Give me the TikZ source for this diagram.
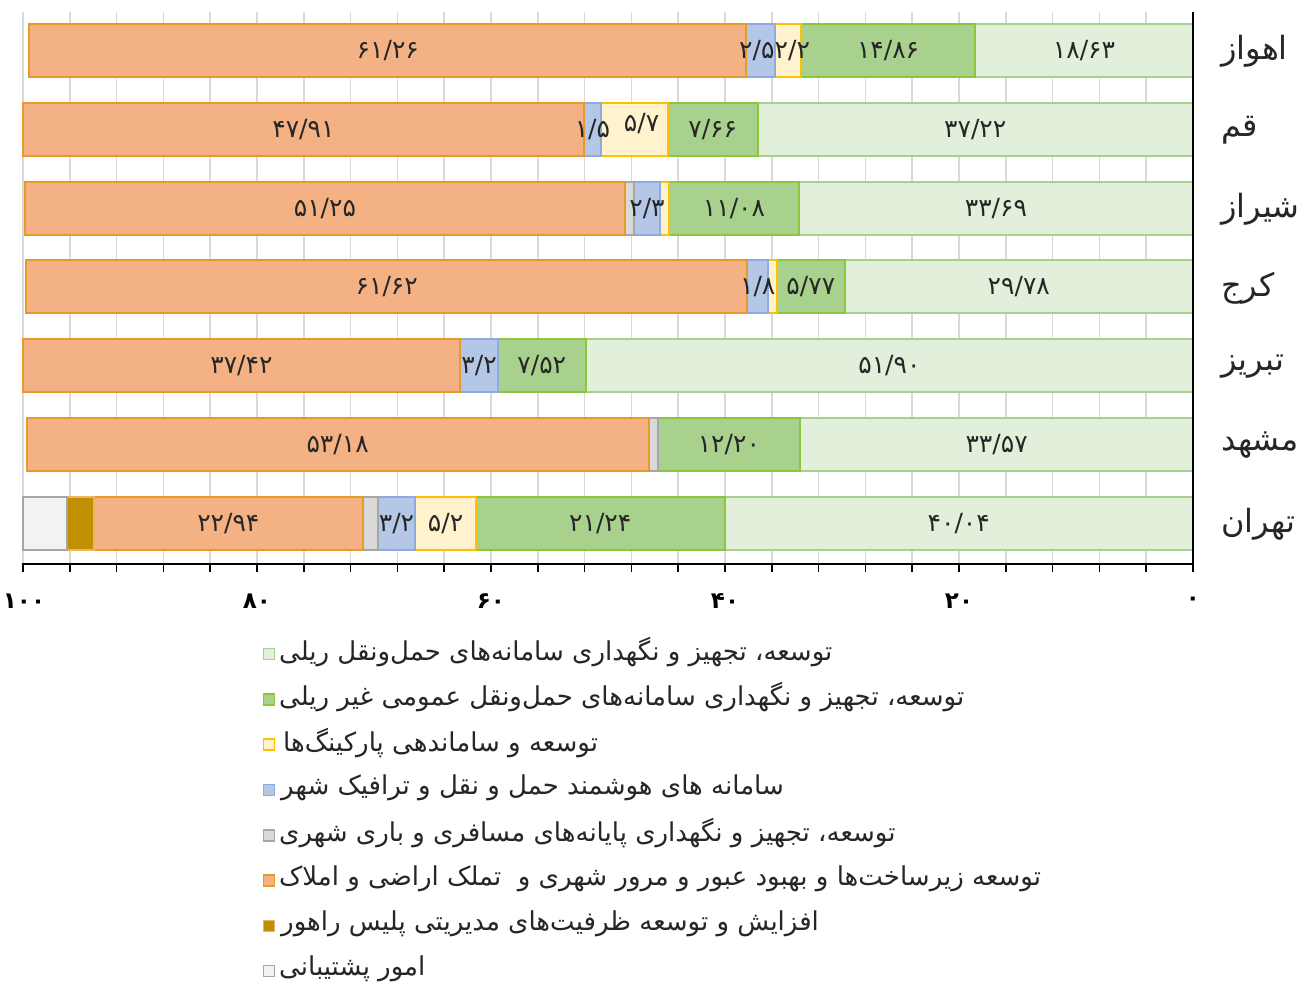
\documentclass[tikz,border=0pt]{standalone}
\usepackage{fontspec}
\setmainfont{DejaVu Sans}
\newfontfamily\fa[Script=Arabic]{DejaVu Sans}
\TeXXeTstate=1

\definecolor{lgfill}{HTML}{E2EFDA}\definecolor{lgdraw}{HTML}{A9D18E}
\definecolor{gfill}{HTML}{A9D18E}\definecolor{gdraw}{HTML}{8CC63F}
\definecolor{yfill}{HTML}{FFF2CC}\definecolor{ydraw}{HTML}{FFC000}
\definecolor{bfill}{HTML}{B4C7E7}\definecolor{bdraw}{HTML}{8FAADC}
\definecolor{grfill}{HTML}{D9D9D9}\definecolor{grdraw}{HTML}{A6A6A6}
\definecolor{ofill}{HTML}{F4B183}\definecolor{odraw}{HTML}{E69A28}
\definecolor{kfill}{HTML}{BF9000}\definecolor{kdraw}{HTML}{F2B266}
\definecolor{lkfill}{HTML}{F2F2F2}\definecolor{lkdraw}{HTML}{A6A6A6}
\definecolor{gridc}{HTML}{D9D9D9}
\definecolor{txt}{HTML}{262626}

% one stacked bar: \rowstart{y} then \barpart{name}{value}{style};
% each part leaves a coordinate named after it at its centre
\newcommand\rowstart[1]{\xdef\rowy{#1}\xdef\cum{0}}
\newcommand\barpart[3]{%
  \pgfmathsetmacro\xa{1193-11.7*\cum}%
  \pgfmathsetmacro\nc{\cum+#2}%
  \pgfmathsetmacro\xb{1193-11.7*\nc}%
  \xdef\cum{\nc}%
  \path[#3] (\xb,\rowy-26.5) rectangle (\xa,\rowy+26.5);
  \coordinate (#1) at ({(\xa+\xb)/2},\rowy);
}

\begin{document}
\begin{tikzpicture}[x=1pt,y=-1pt,
  seg/.style={line width=2pt},
  slg/.style={seg,fill=lgfill,draw=lgdraw},
  sg/.style={seg,fill=gfill,draw=gdraw},
  sy/.style={seg,fill=yfill,draw=ydraw},
  sb/.style={seg,fill=bfill,draw=bdraw},
  sgr/.style={seg,fill=grfill,draw=grdraw},
  so/.style={seg,fill=ofill,draw=odraw},
  sk/.style={seg,fill=kfill,draw=kdraw},
  slk/.style={seg,fill=lkfill,draw=lkdraw},
  vlabel/.style={inner sep=0pt,text=txt,font=\fontsize{25}{30}\selectfont},
  city/.style={anchor=west,inner sep=0pt,text=txt,font=\fontsize{32}{38}\fa},
  tick label/.style={inner sep=0pt,text=black,font=\fontsize{23}{27}\bfseries},
  lsq/.style={minimum size=11pt,inner sep=0pt,line width=1.6pt},
  ltext/.style={anchor=west,inner sep=0pt,text=txt,font=\fontsize{26}{30}\fa},
]
\useasboundingbox[fill=white] (0,0) rectangle (1316,983);

% vertical gridlines every 4 units
\foreach \k in {1,...,25}
  \draw[gridc,line width=1.5pt] ({1193-46.8*\k},12) -- ({1193-46.8*\k},564);

% bars
\rowstart{50.5}
\barpart{a1}{18.63}{slg}
\barpart{a2}{14.86}{sg}
\barpart{a3}{2.2}{sy}
\barpart{a4}{2.5}{sb}
\barpart{a5}{61.26}{so}

\rowstart{129.3}
\barpart{q1}{37.22}{slg}
\barpart{q2}{7.66}{sg}
\barpart{q3}{5.7}{sy}
\barpart{q4}{1.5}{sb}
\barpart{q5}{47.91}{so}

\rowstart{208.1}
\barpart{s1}{33.69}{slg}
\barpart{s2}{11.08}{sg}
\barpart{s3}{0.75}{sy}
\barpart{s4}{2.3}{sb}
\barpart{s5}{0.75}{sgr}
\barpart{s6}{51.25}{so}

\rowstart{286.9}
\barpart{k1}{29.78}{slg}
\barpart{k2}{5.77}{sg}
\barpart{k3}{0.75}{sy}
\barpart{k4}{1.8}{sb}
\barpart{k5}{61.62}{so}

\rowstart{365.7}
\barpart{t1}{51.90}{slg}
\barpart{t2}{7.52}{sg}
\barpart{t3}{3.2}{sb}
\barpart{t4}{37.42}{so}

\rowstart{444.5}
\barpart{m1}{33.57}{slg}
\barpart{m2}{12.20}{sg}
\barpart{m3}{0.75}{sgr}
\barpart{m4}{53.18}{so}

\rowstart{523.3}
\barpart{h1}{40.04}{slg}
\barpart{h2}{21.24}{sg}
\barpart{h3}{5.2}{sy}
\barpart{h4}{3.2}{sb}
\barpart{h5}{1.3}{sgr}
\barpart{h6}{22.94}{so}
\barpart{h7}{2.3}{sk}
\barpart{h8}{3.8}{slk}

% value labels, on top of all bars
\node[vlabel] (a1l) at (a1) {۱۸/۶۳};
\node[vlabel] (a2l) at (a2) {۱۴/۸۶};
\node[vlabel,xshift=4pt] (a3l) at (a3) {۲/۲};
\node[vlabel,xshift=-4pt] (a4l) at (a4) {۲/۵};
\node[vlabel] (a5l) at (a5) {۶۱/۲۶};

\node[vlabel] (q1l) at (q1) {۳۷/۲۲};
\node[vlabel] (q2l) at (q2) {۷/۶۶};
\node[vlabel,xshift=7pt,yshift=6pt] (q3l) at (q3) {۵/۷};
\node[vlabel] (q4l) at (q4) {۱/۵};
\node[vlabel] (q5l) at (q5) {۴۷/۹۱};

\node[vlabel] (s1l) at (s1) {۳۳/۶۹};
\node[vlabel] (s2l) at (s2) {۱۱/۰۸};
\node[vlabel] (s4l) at (s4) {۲/۳};
\node[vlabel] (s6l) at (s6) {۵۱/۲۵};

\node[vlabel] (k1l) at (k1) {۲۹/۷۸};
\node[vlabel] (k2l) at (k2) {۵/۷۷};
\node[vlabel] (k4l) at (k4) {۱/۸};
\node[vlabel] (k5l) at (k5) {۶۱/۶۲};

\node[vlabel] (t1l) at (t1) {۵۱/۹۰};
\node[vlabel] (t2l) at (t2) {۷/۵۲};
\node[vlabel] (t3l) at (t3) {۳/۲};
\node[vlabel] (t4l) at (t4) {۳۷/۴۲};

\node[vlabel] (m1l) at (m1) {۳۳/۵۷};
\node[vlabel] (m2l) at (m2) {۱۲/۲۰};
\node[vlabel] (m4l) at (m4) {۵۳/۱۸};

\node[vlabel] (h1l) at (h1) {۴۰/۰۴};
\node[vlabel] (h2l) at (h2) {۲۱/۲۴};
\node[vlabel] (h3l) at (h3) {۵/۲};
\node[vlabel] (h4l) at (h4) {۳/۲};
\node[vlabel] (h6l) at (h6) {۲۲/۹۴};

% axes
\coordinate (o) at (1193,564);
\coordinate (xend) at (22,564);
\coordinate (ytop) at (1193,12);
\draw[black,line width=2pt] (xend) -- (o) -- (ytop);
\foreach \k in {0,...,25}
  \draw[black,line width=1.6pt] ({1193-46.8*\k},564) -- ({1193-46.8*\k},572);
\node[tick label] (x0) at (1193,601) {۰};
\node[tick label] (x20) at (959,601) {۲۰};
\node[tick label] (x40) at (725,601) {۴۰};
\node[tick label] (x60) at (491,601) {۶۰};
\node[tick label] (x80) at (257,601) {۸۰};
\node[tick label] (x100) at (24,601) {۱۰۰};

% category names
\node[city] (c1) at (1221,51) {\beginR اهواز\endR};
\node[city] (c2) at (1221,130) {\beginR قم\endR};
\node[city] (c3) at (1221,209) {\beginR شیراز\endR};
\node[city] (c4) at (1221,288) {\beginR کرج\endR};
\node[city] (c5) at (1221,367) {\beginR تبریز\endR};
\node[city] (c6) at (1221,445) {\beginR مشهد\endR};
\node[city] (c7) at (1221,524) {\beginR تهران\endR};

% legend
\node[lsq,fill=lgfill,draw=lgdraw] (l1) at (269,654) {};
\node[lsq,fill=gfill,draw=gdraw] (l2) at (269,699.3) {};
\node[lsq,fill=yfill,draw=ydraw] (l3) at (269,744.6) {};
\node[lsq,fill=bfill,draw=bdraw] (l4) at (269,789.9) {};
\node[lsq,fill=grfill,draw=grdraw] (l5) at (269,835.2) {};
\node[lsq,fill=ofill,draw=odraw] (l6) at (269,880.5) {};
\node[lsq,fill=kfill,draw=kdraw] (l7) at (269,925.8) {};
\node[lsq,fill=lkfill,draw=lkdraw] (l8) at (269,971.1) {};

\node[ltext] (e1) at (279,652) {\beginR توسعه، تجهیز و نگهداری سامانه‌های حمل‌ونقل ریلی\endR};
\node[ltext] (e2) at (279,697.3) {\beginR توسعه، تجهیز و نگهداری سامانه‌های حمل‌ونقل عمومی غیر ریلی\endR};
\node[ltext] (e3) at (283,742.6) {\beginR توسعه و ساماندهی پارکینگ‌ها\endR};
\node[ltext] (e4) at (281,787.9) {\beginR سامانه های هوشمند حمل و نقل و ترافیک شهر\endR};
\node[ltext] (e5) at (279,833.2) {\beginR توسعه، تجهیز و نگهداری پایانه‌های مسافری و باری شهری\endR};
\node[ltext] (e6) at (279,878.5) {\beginR توسعه زیرساخت‌ها و بهبود عبور و مرور شهری و \ تملک اراضی و املاک\endR};
\node[ltext] (e7) at (281,923.8) {\beginR افزایش و توسعه ظرفیت‌های مدیریتی پلیس راهور\endR};
\node[ltext] (e8) at (279,969.1) {\beginR امور پشتیبانی\endR};
\end{tikzpicture}
\end{document}
